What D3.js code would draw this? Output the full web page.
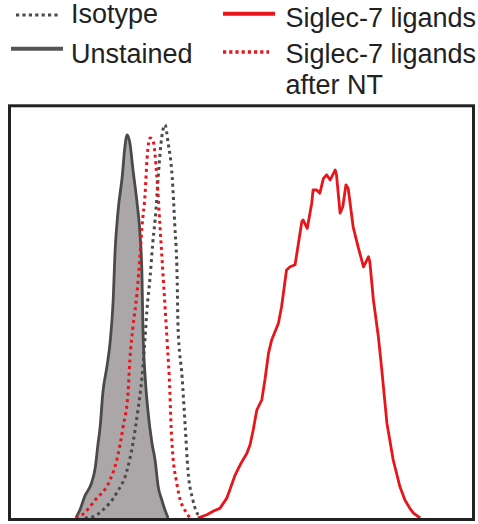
<!DOCTYPE html>
<html>
<head>
<meta charset="utf-8">
<script src="https://cdn.jsdelivr.net/npm/d3@7"></script>
<style>
  html, body { margin: 0; padding: 0; background: #fff; }
  svg { display: block; }
  text { font-family: "Liberation Sans", Arial, Helvetica, sans-serif; fill: #222; }
</style>
</head>
<body>
<svg id="chart" width="478" height="524"></svg>
<script>
// Flow cytometry histograms: fluorescence channel (0-1024) vs. % of max count.
const unstained = [
  [144, 0], [153, 2], [164, 5.5], [178, 8.5], [187, 12.5], [193, 18.3], [198, 22.8],
  [204, 31.3], [213, 37.8], [220, 43.8], [227, 54.5], [231, 66.3], [238, 77],
  [247, 85.3], [253, 92.8], [258, 95.8], [264, 93.8], [271, 87], [280, 78.8],
  [287, 70.3], [291, 60.3], [293, 47.8], [298, 35.3], [304, 27], [313, 18.8],
  [320, 14.5], [327, 7.8], [335, 4.5], [342, 2], [349, 0]
];
const isotype = [
  [164, 0], [182, 0.3], [204, 2], [235, 6.3], [258, 12], [271, 18.8], [282, 27],
  [291, 35.3], [298, 45.3], [302, 52], [309, 60.3], [315, 68.8], [322, 77],
  [327, 85.3], [335, 95.3], [342, 98.3], [349, 93.8], [358, 85.3], [364, 72.8],
  [369, 60.3], [371, 47.8], [380, 35.3], [387, 22.8], [393, 12], [404, 4.5],
  [420, 0.3], [427, 0]
];
const siglecNT = [
  [144, 0], [158, 0.8], [187, 4.5], [220, 9.5], [235, 14.5], [249, 22.8],
  [260, 31.3], [264, 39.5], [271, 47.8], [280, 56.3], [287, 66.3], [291, 72.8],
  [298, 81.3], [302, 89.5], [309, 95], [315, 94.5], [324, 85.3], [331, 72.8],
  [338, 60.3], [347, 43.8], [353, 31.3], [355, 24.5], [360, 15], [367, 9.5],
  [373, 5.8], [387, 1.8], [398, 0]
];
const siglec = [
  [415, 0], [435, 0.8], [451, 1.8], [464, 2.4], [479, 4.9], [486, 7], [498, 10.8],
  [509, 13.3], [524, 16.2], [531, 18.3], [538, 22], [546, 27], [557, 29.5],
  [564, 34.5], [572, 41.2], [579, 44.5], [594, 48.7], [601, 52.8], [612, 62],
  [620, 62.8], [631, 63.3], [646, 74.1], [649, 74.5], [658, 72.4], [668, 78.7],
  [671, 82], [679, 82], [686, 81.2], [694, 84.9], [701, 85.8], [709, 84.5],
  [720, 87], [723, 85.8], [731, 76.2], [737, 77.8], [744, 83.3], [749, 82.4],
  [760, 72.8], [771, 67.8], [783, 62.8], [794, 65.3], [797, 64.1], [805, 54.5],
  [816, 45.3], [823, 37.8], [835, 23.7], [849, 14.5], [864, 7.8], [875, 4.5],
  [886, 2.4], [894, 1.2], [909, 0]
];

const legendLeft = ["Isotype", "Unstained"];
const legendRight = [["Siglec-7 ligands"], ["Siglec-7 ligands", "after NT"]];

const RED = "#e8151b";
const GREY = "#4a4a4a";

const svg = d3.select("#chart");

const x = d3.scaleLinear().domain([0, 1024]).range([11, 472]);
const y = d3.scaleLinear().domain([0, 100]).range([518, 118]);

const line = d3.line().x(d => x(d[0])).y(d => y(d[1])).curve(d3.curveLinear);
const smooth = d3.line().x(d => x(d[0])).y(d => y(d[1])).curve(d3.curveMonotoneX);
const area = d3.area().x(d => x(d[0])).y0(y(0)).y1(d => y(d[1])).curve(d3.curveMonotoneX);

const plot = svg.append("g");

// Unstained: filled grey histogram
plot.append("path").datum(unstained)
  .attr("d", area)
  .attr("fill", "#aba6a7")
  .attr("stroke", "none");
plot.append("path").datum(unstained)
  .attr("d", smooth)
  .attr("fill", "none")
  .attr("stroke", GREY)
  .attr("stroke-width", 2.8)
  .attr("stroke-linejoin", "round");

// Isotype: dotted grey
plot.append("path").datum(isotype)
  .attr("d", smooth)
  .attr("fill", "none")
  .attr("stroke", GREY)
  .attr("stroke-width", 3)
  .attr("stroke-dasharray", "3,3.6");

// Siglec-7 ligands after NT: dotted red
plot.append("path").datum(siglecNT)
  .attr("d", smooth)
  .attr("fill", "none")
  .attr("stroke", RED)
  .attr("stroke-width", 3)
  .attr("stroke-dasharray", "3,3.6");

// Siglec-7 ligands: solid red
plot.append("path").datum(siglec)
  .attr("d", line)
  .attr("fill", "none")
  .attr("stroke", RED)
  .attr("stroke-width", 2.8)
  .attr("stroke-linejoin", "round");

// Plot frame
svg.append("rect")
  .attr("x", 9.5).attr("y", 105.8)
  .attr("width", 464).attr("height", 413.7)
  .attr("fill", "none")
  .attr("stroke", "#222")
  .attr("stroke-width", 3);

// Legend
const leg = svg.append("g").attr("font-size", 27);

leg.append("line").attr("x1", 16).attr("x2", 60).attr("y1", 15).attr("y2", 15)
  .attr("stroke", GREY).attr("stroke-width", 3).attr("stroke-dasharray", "3.2,3.2");
leg.append("line").attr("x1", 11).attr("x2", 63).attr("y1", 48.8).attr("y2", 48.8)
  .attr("stroke", "#555").attr("stroke-width", 4);
leg.append("text").attr("x", 71).attr("y", 23).text(legendLeft[0]);
leg.append("text").attr("x", 71).attr("y", 62.5).text(legendLeft[1]);

leg.append("line").attr("x1", 223).attr("x2", 275).attr("y1", 13.8).attr("y2", 13.8)
  .attr("stroke", RED).attr("stroke-width", 4);
leg.append("line").attr("x1", 223).attr("x2", 269).attr("y1", 52).attr("y2", 52)
  .attr("stroke", RED).attr("stroke-width", 3.5).attr("stroke-dasharray", "3.2,3");
leg.append("text").attr("x", 285.5).attr("y", 27).text(legendRight[0][0]);
const t2 = leg.append("text").attr("x", 285.5).attr("y", 63);
legendRight[1].forEach((s, i) => {
  t2.append("tspan").attr("x", 285.5).attr("dy", i === 0 ? 0 : 30.5).text(s);
});
</script>
</body>
</html>
